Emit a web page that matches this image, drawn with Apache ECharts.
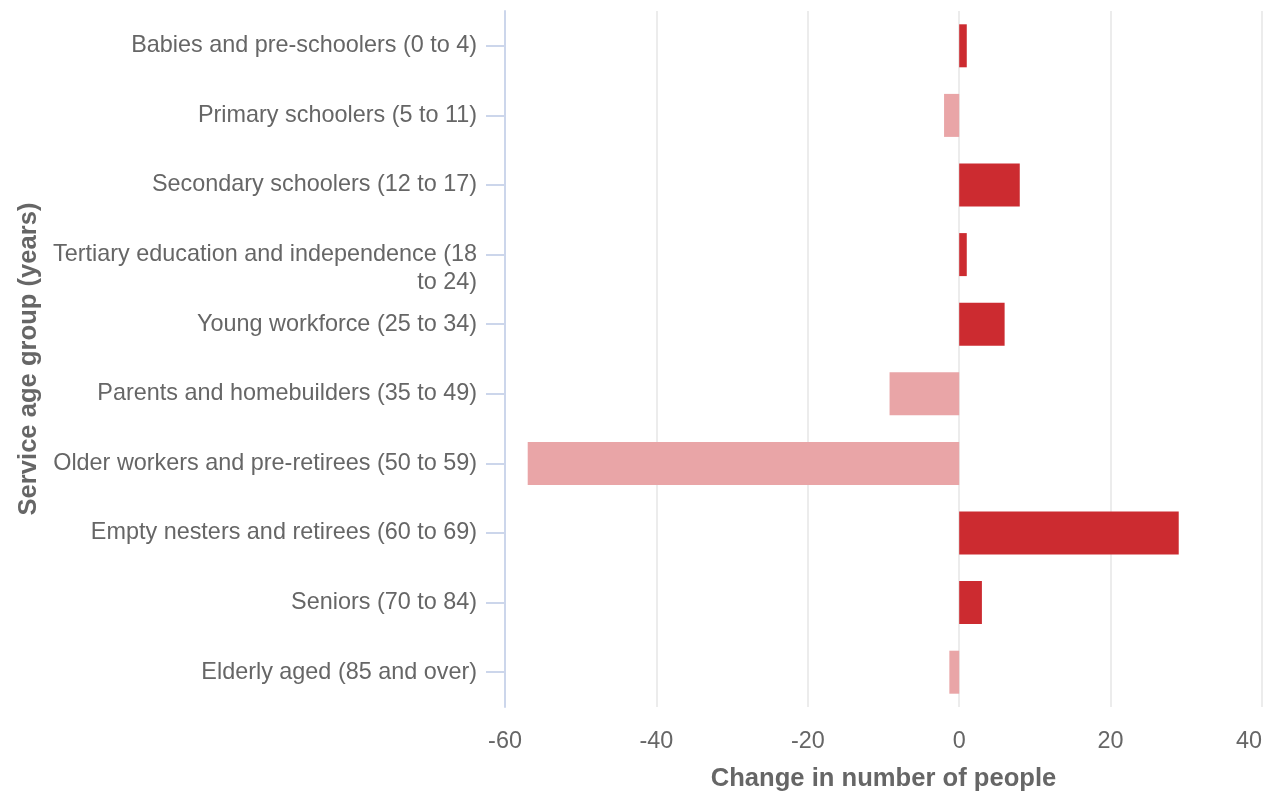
<!DOCTYPE html>
<html>
<head>
<meta charset="utf-8">
<script src="https://cdn.jsdelivr.net/npm/echarts@6/dist/echarts.min.js"></script>
<style>html,body{margin:0;padding:0;background:#fff}#c{width:1264px;height:791px}</style>
</head>
<body>
<div id="c"></div>
<script>
const categories = [
  'Babies and pre-schoolers (0 to 4)',
  'Primary schoolers (5 to 11)',
  'Secondary schoolers (12 to 17)',
  'Tertiary education and independence (18 to 24)',
  'Young workforce (25 to 34)',
  'Parents and homebuilders (35 to 49)',
  'Older workers and pre-retirees (50 to 59)',
  'Empty nesters and retirees (60 to 69)',
  'Seniors (70 to 84)',
  'Elderly aged (85 and over)'
];
const changeValues = [1, -2, 8, 1, 6, -9.2, -57, 29, 3, -1.3];
const xTicks = [-60, -40, -20, 0, 20, 40];

const POS = '#cc2b30', NEG = '#e9a5a7';
function wrapLabel(v) {
  if (v.length <= 42) return v;
  const idx = v.lastIndexOf(' ', 40);
  return '\n' + v.slice(0, idx) + '\n' + v.slice(idx + 1);
}
const chart = echarts.init(document.getElementById('c'));
chart.setOption({
  animation: false,
  grid: { left: 505, right: 2, top: 11, bottom: 84, containLabel: false, outerBoundsMode: 'none' },
  xAxis: {
    type: 'value', min: xTicks[0], max: xTicks[xTicks.length - 1], interval: 20,
    name: 'Change in number of people', nameLocation: 'middle', nameGap: 59,
    nameTextStyle: { fontFamily: 'Liberation Sans', fontSize: 25.6, fontWeight: 'bold', color: '#666' },
    axisLine: { show: false }, axisTick: { show: false },
    axisLabel: { fontFamily: 'Liberation Sans', fontSize: 23.4, color: '#666', margin: 23, alignMaxLabel: 'right' },
    splitLine: { show: true, lineStyle: { color: '#ececec', width: 2 } }
  },
  yAxis: {
    type: 'category', data: categories, inverse: true,
    name: 'Service age group (years)', nameLocation: 'middle', nameGap: 459,
    nameTextStyle: { fontFamily: 'Liberation Sans', fontSize: 25.6, fontWeight: 'bold', color: '#666' },
    axisLine: { show: true, onZero: false, lineStyle: { color: '#ccd6eb', width: 2 } },
    axisTick: { show: true, alignWithLabel: true, length: 19, lineStyle: { color: '#ccd6eb', width: 2 } },
    axisLabel: { fontFamily: 'Liberation Sans', fontSize: 23.4, color: '#666', margin: 28,
      lineHeight: 28, align: 'right', padding: [3, 0, 0, 0], formatter: wrapLabel },
    splitLine: { show: false }
  },
  series: [{
    type: 'bar', barWidth: 43,
    data: changeValues.map(v => ({ value: v, itemStyle: { color: v >= 0 ? POS : NEG } }))
  }]
});
</script>
</body>
</html>
